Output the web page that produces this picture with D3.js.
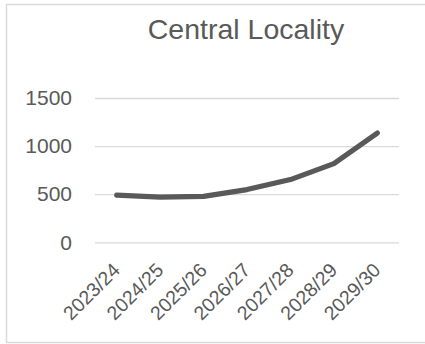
<!DOCTYPE html>
<html>
<head>
<meta charset="utf-8">
<script src="https://cdn.jsdelivr.net/npm/d3@7"></script>
<style>
  html, body { margin: 0; padding: 0; background: #fff; }
  svg { display: block; }
</style>
</head>
<body>
<svg id="chart" width="425" height="344"></svg>
<script>
// Chart data
const title = "Central Locality";
const categories = ["2023/24", "2024/25", "2025/26", "2026/27", "2027/28", "2028/29", "2029/30"];
const values = [490, 470, 478, 548, 652, 818, 1135];
const yTicks = [0, 500, 1000, 1500];

const svg = d3.select("#chart");
const font = "'Liberation Sans', Arial, sans-serif";
const textColor = "#595959";
const gridColor = "#d9d9d9";

// Chart area frame
svg.append("rect")
  .attr("x", 6.5).attr("y", 4.5)
  .attr("width", 430).attr("height", 338)
  .attr("fill", "#fff")
  .attr("stroke", gridColor).attr("stroke-width", 1.5);

const plot = { left: 95, right: 399, top: 98, bottom: 242.3 };

const x = d3.scaleBand().domain(categories).range([plot.left, plot.right]);
const y = d3.scaleLinear().domain([0, 1500]).range([plot.bottom, plot.top]);

// Title
svg.append("text")
  .attr("x", 246).attr("y", 38.5)
  .attr("text-anchor", "middle")
  .attr("font-family", font).attr("font-size", 28.5)
  .attr("fill", textColor)
  .text(title);

// Value axis: gridlines and labels
const yAxis = d3.axisLeft(y)
  .tickValues(yTicks)
  .tickFormat(d3.format("d"))
  .tickSize(-(plot.right - plot.left))
  .tickPadding(23);
const gy = svg.append("g").attr("transform", `translate(${plot.left},0)`).call(yAxis);
gy.select(".domain").remove();
gy.selectAll(".tick line").attr("stroke", gridColor).attr("stroke-width", 1.3);
gy.selectAll(".tick text")
  .attr("font-family", font).attr("font-size", 21)
  .attr("fill", textColor);

// Category axis labels, rotated
const xAxis = d3.axisBottom(x).tickSize(0).tickPadding(0);
const gx = svg.append("g").attr("transform", `translate(0,${plot.bottom})`).call(xAxis);
gx.select(".domain").remove();
gx.selectAll(".tick text")
  .attr("font-family", font).attr("font-size", 19.5)
  .attr("fill", textColor)
  .attr("text-anchor", "end")
  .attr("dy", null)
  .attr("transform", "translate(4.5,29) rotate(-45)");

// Series line
const line = d3.line()
  .x((d, i) => x(categories[i]) + x.bandwidth() / 2)
  .y(d => y(d));

svg.append("path")
  .datum(values)
  .attr("d", line)
  .attr("fill", "none")
  .attr("stroke", "#595959")
  .attr("stroke-width", 5.2)
  .attr("stroke-linecap", "round")
  .attr("stroke-linejoin", "round");
</script>
</body>
</html>
